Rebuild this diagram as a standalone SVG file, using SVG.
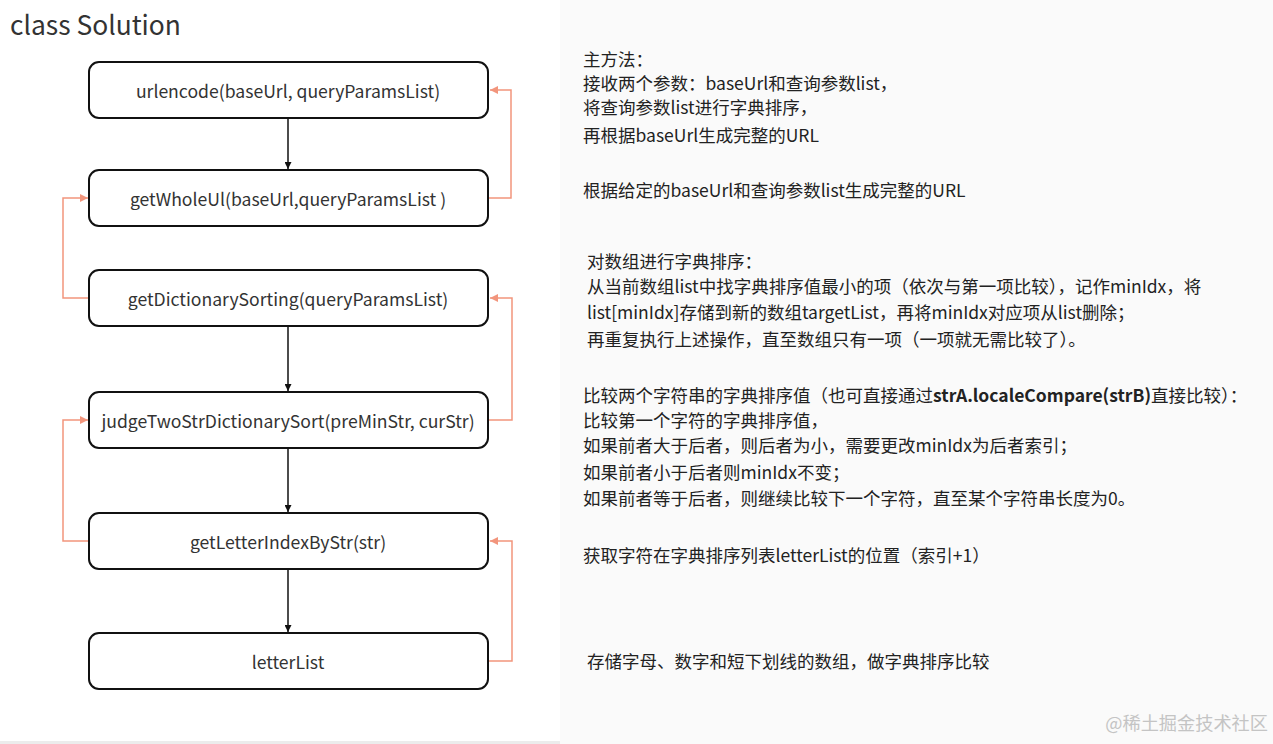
<svg xmlns="http://www.w3.org/2000/svg" width="1273" height="744" viewBox="0 0 1273 744">
<defs>
<style>
.node rect{fill:#fff;stroke:#111;stroke-width:2}
.node text{font-family:"Noto Sans CJK SC","Noto Sans",sans-serif;font-size:17.6px;fill:#333;text-anchor:middle;dominant-baseline:central}
.desc{font-family:"Noto Sans CJK SC","Noto Sans",sans-serif;font-size:17.5px;fill:#222}
.blk{stroke:#111;stroke-width:1.5;fill:none}
.org{stroke:#f2957c;stroke-width:1.5;fill:none}
</style>
<marker id="ab" viewBox="0 0 10 10" refX="10" refY="5" markerWidth="7" markerHeight="7" orient="auto" markerUnits="userSpaceOnUse"><path d="M0,0 L10,5 L0,10 z" fill="#111"/></marker>
<marker id="ao" viewBox="0 0 10 10" refX="10" refY="5" markerWidth="8" markerHeight="8" orient="auto" markerUnits="userSpaceOnUse"><path d="M0,0 L10,5 L0,10 z" fill="#f2957c"/></marker>
</defs>
<rect x="0" y="0" width="1273" height="744" fill="#fafafa"/>
<rect x="0" y="0" width="560" height="741" fill="#fff"/>
<rect x="0" y="741" width="560" height="3" fill="#ececec"/>
<text x="10" y="35" font-family="Noto Sans CJK SC, Noto Sans, sans-serif" font-size="26.4" fill="#333">class Solution</text>
<g id="connectors">
<path class="blk" d="M288,119 V169" marker-end="url(#ab)"/>
<path class="blk" d="M288,327 V391" marker-end="url(#ab)"/>
<path class="blk" d="M288,449 V512" marker-end="url(#ab)"/>
<path class="blk" d="M288,570 V632" marker-end="url(#ab)"/>
<path class="org" d="M489,198 H511 V90 H490" marker-end="url(#ao)"/>
<path class="org" d="M88,298 H63 V198 H88" marker-end="url(#ao)"/>
<path class="org" d="M489,420 H512 V298 H490" marker-end="url(#ao)"/>
<path class="org" d="M88,541 H63 V420 H88" marker-end="url(#ao)"/>
<path class="org" d="M489,661 H512 V541 H490" marker-end="url(#ao)"/>
</g>
<g id="n1" class="node"><rect x="89" y="62" width="399" height="56" rx="10"/><text x="288" y="90">urlencode(baseUrl, queryParamsList)</text></g>
<g id="n2" class="node"><rect x="89" y="170" width="399" height="56" rx="10"/><text x="288" y="198">getWholeUl(baseUrl,queryParamsList )</text></g>
<g id="n3" class="node"><rect x="89" y="270" width="399" height="56" rx="10"/><text x="288" y="298">getDictionarySorting(queryParamsList)</text></g>
<g id="n4" class="node"><rect x="89" y="392" width="399" height="56" rx="10"/><text x="288" y="420">judgeTwoStrDictionarySort(preMinStr, curStr)</text></g>
<g id="n5" class="node"><rect x="89" y="513" width="399" height="56" rx="10"/><text x="288" y="541">getLetterIndexByStr(str)</text></g>
<g id="n6" class="node"><rect x="89" y="633" width="399" height="56" rx="10"/><text x="288" y="661">letterList</text></g>
<g id="descriptions">
<text class="desc" x="583" y="66">主方法：</text>
<text class="desc" x="583" y="90">接收两个参数：baseUrl和查询参数list，</text>
<text class="desc" x="583" y="114">将查询参数list进行字典排序，</text>
<text class="desc" x="583" y="142">再根据baseUrl生成完整的URL</text>
<text class="desc" x="583" y="197">根据给定的baseUrl和查询参数list生成完整的URL</text>
<text class="desc" x="587" y="268">对数组进行字典排序：</text>
<text class="desc" x="587" y="293">从当前数组list中找字典排序值最小的项（依次与第一项比较），记作minIdx，将</text>
<text class="desc" x="587" y="319">list[minIdx]存储到新的数组targetList，再将minIdx对应项从list删除；</text>
<text class="desc" x="587" y="346">再重复执行上述操作，直至数组只有一项（一项就无需比较了）。</text>
<text class="desc" x="583" y="402">比较两个字符串的字典排序值（也可直接通过<tspan font-weight="bold">strA.localeCompare(strB)</tspan>直接比较）：</text>
<text class="desc" x="583" y="427">比较第一个字符的字典排序值，</text>
<text class="desc" x="583" y="452">如果前者大于后者，则后者为小，需要更改minIdx为后者索引；</text>
<text class="desc" x="583" y="479">如果前者小于后者则minIdx不变；</text>
<text class="desc" x="583" y="505">如果前者等于后者，则继续比较下一个字符，直至某个字符串长度为0。</text>
<text class="desc" x="583" y="562">获取字符在字典排序列表letterList的位置（索引+1）</text>
<text class="desc" x="587" y="668">存储字母、数字和短下划线的数组，做字典排序比较</text>
<text x="1268" y="730" text-anchor="end" font-family="Noto Sans CJK SC, sans-serif" font-size="18.2" fill="#c4c4c4">@稀土掘金技术社区</text>
</g>
</svg>
